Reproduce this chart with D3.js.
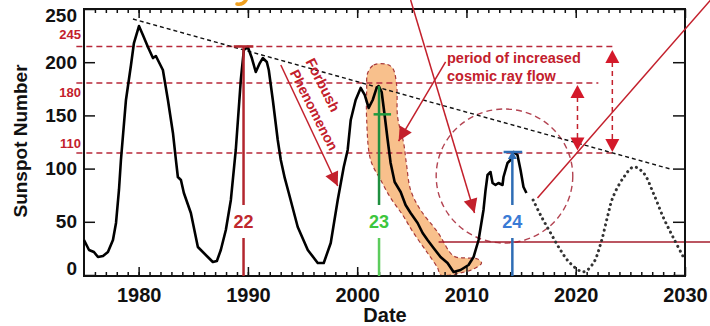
<!DOCTYPE html>
<html><head><meta charset="utf-8">
<script src="https://cdn.jsdelivr.net/npm/d3@7"></script>
<style>
body{margin:0;background:#fff}
svg{display:block}
text{font-family:"Liberation Sans",Arial,Helvetica,sans-serif}
</style>
</head><body>
<svg id="c" width="710" height="326"></svg>
<script>
// ---------- data ----------
const years = [1975.00,1975.46,1975.91,1976.28,1976.74,1977.19,1977.65,1977.93,1978.20,1978.38,1978.84,1979.30,1979.57,1980.03,1980.39,1980.85,1981.31,1981.58,1981.76,1982.22,1982.68,1983.14,1983.41,1983.59,1983.87,1984.14,1984.78,1985.42,1986.33,1986.79,1987.16,1987.52,1987.98,1988.44,1988.89,1989.35,1989.63,1989.99,1990.36,1990.72,1991.09,1991.36,1991.73,1991.91,1992.28,1992.73,1993.01,1993.37,1993.74,1994.56,1995.48,1996.39,1996.94,1997.58,1998.22,1998.77,1999.13,1999.41,1999.86,2000.32,2000.69,2001.05,2001.42,2001.78,2001.97,2002.24,2002.51,2002.79,2003.06,2003.43,2003.98,2004.43,2004.89,2005.53,2005.99,2006.44,2006.99,2007.63,2008.27,2008.82,2009.46,2010.19,2010.65,2011.11,2011.56,2011.75,2011.93,2012.20,2012.39,2012.66,2012.93,2013.30,2013.39,2013.76,2014.03,2014.31,2014.67,2014.95,2015.22,2015.49];
const sunspots = [32.9,23.5,21.6,16.9,17.9,21.6,32.9,48.9,79.9,108.1,164.5,197.4,218.0,234.0,225.6,214.3,203.9,205.8,202.1,192.7,164.5,133.5,108.1,92.1,89.3,77.1,58.3,26.3,16.9,12.2,13.2,23.5,42.3,70.5,117.5,183.3,211.5,214.3,203.9,190.8,199.2,203.9,200.2,192.7,164.5,126.9,108.1,91.2,77.1,45.1,23.5,11.3,11.3,30.1,70.5,101.5,117.5,145.7,164.5,175.8,169.2,157.0,164.5,175.8,177.6,172.0,150.4,126.9,105.3,87.4,78.0,65.8,58.3,48.9,39.5,32.9,25.4,16.9,11.3,2.8,4.7,9.4,16.9,32.9,61.1,79.9,94.0,96.8,86.5,84.6,86.5,84.6,92.1,105.3,108.1,115.6,112.8,98.7,82.7,77.1];

const predYears  = [2016.1,2016.8,2017.7,2018.6,2019.5,2020.7,2021.6,2022.3,2022.9,2023.4,2024.4,2025.3,2026.2,2027.1,2028.0,2028.9,2029.85];
const predValues = [70.5,56,39.5,23.5,11,3,11,30,54.5,73,92,101.5,96,77,54.5,35.7,17];

// orange band around cycle 23 decline (year, value) – outline
const bandYears  = [2000.96,2001.51,2002.60,2003.24,2003.61,2003.70,2004.25,2004.52,2004.89,2005.80,2007.36,2008.82,2009.92,2011.01,2011.38,2010.65,2009.46,2008.55,2007.63,2007.36,2006.44,2005.16,2004.16,2003.06,2002.15,2001.23,2000.87,2000.87];
const bandValues = [189.8,197.4,198.3,194.5,178.6,148.5,124.1,103.4,79.9,61.1,40.4,17.9,16.0,15.0,11.3,5.6,1.9,0,0,6.6,20.7,39.5,56.4,72.4,89.3,108.1,145.7,173.9];

const xTicks = [1980,1990,2000,2010,2020,2030];
const yTicks = [0,50,100,150,200,250];
const xMinorTicks = d3.range(1976,2030);

const levelLabels = ["245","180","110"];
const levelValues = [214.8,180.5,114.7];
const levelEnds   = [2023.35,2022.07,2023.45];

const cycleLabels = ["22","23","24"];
const cycleYears  = [1989.6,2002.0,2014.2];
const cycleTops   = [214.8,177.6,115.6];

const trendYears  = [1979.48,2028.66];
const trendValues = [240.6,99.6];

// ---------- setup ----------
const svg = d3.select("#c");
const x = d3.scaleLinear().domain([1975,2030]).range([84,685]);
const y = d3.scaleLinear().domain([0,250]).range([275,9]);
const RED = "#c3202c";

// orange band
const band = bandYears.map((d,i)=>[x(d),y(bandValues[i])]);
svg.append("path").attr("d", d3.line().curve(d3.curveCatmullRomClosed.alpha(0.5))(band))
  .attr("fill","#f8c08c").attr("stroke","#a83a3a").attr("stroke-width",1.2).attr("stroke-dasharray","4,3");

// horizontal red dashed reference levels
levelValues.forEach((v,i)=>{
  svg.append("line").attr("x1",x(1974.3)).attr("x2",x(levelEnds[i]))
    .attr("y1",y(v)).attr("y2",y(v))
    .attr("stroke","#b8283a").attr("stroke-width",1.5).attr("stroke-dasharray","6,4");
});
const levelTextY = [39,97,148];
levelLabels.forEach((t,i)=>{
  svg.append("text").attr("x",81).attr("y",levelTextY[i]).attr("text-anchor","end")
    .attr("font-size",13).attr("font-weight","bold").attr("fill",RED).text(t);
});

// dashed circle
const cx = x(2013.48), cy = y(93);
svg.append("ellipse").attr("cx",cx).attr("cy",cy)
  .attr("rx",x(2013.48+6.25)-cx).attr("ry",y(93)-y(156))
  .attr("fill","none").attr("stroke","#b34452").attr("stroke-width",1.4).attr("stroke-dasharray","6,4");

// solid dark red horizontal
svg.append("line").attr("x1",x(2007.45)).attr("x2",x(2032.5)).attr("y1",y(31)).attr("y2",y(31))
  .attr("stroke","#a51e2c").attr("stroke-width",1.5);

// trend line
svg.append("line").attr("x1",x(trendYears[0])).attr("y1",y(trendValues[0]))
  .attr("x2",x(trendYears[1])).attr("y2",y(trendValues[1]))
  .attr("stroke","#111").attr("stroke-width",1.4).attr("stroke-dasharray","4,3");

// frame & axes
const g = svg.append("g");
g.append("g").attr("transform","translate(0,276)")
  .call(d3.axisBottom(x).tickValues(xMinorTicks).tickSize(-4).tickFormat("")).call(s=>s.select(".domain").remove());
g.append("g").attr("transform","translate(0,9)")
  .call(d3.axisTop(x).tickValues(xMinorTicks).tickSize(-4).tickFormat("")).call(s=>s.select(".domain").remove());
g.append("g").attr("transform","translate(0,276)")
  .call(d3.axisBottom(x).tickValues(xTicks).tickSize(-9).tickPadding(12).tickFormat(d3.format("d")))
  .call(s=>s.select(".domain").remove())
  .selectAll("text").attr("font-size",20).attr("font-weight","bold").attr("fill","#111");
g.append("g").attr("transform","translate(0,9)")
  .call(d3.axisTop(x).tickValues(xTicks).tickSize(-9).tickFormat(""))
  .call(s=>s.select(".domain").remove());
const yl = g.append("g").attr("transform","translate(84,0)")
  .call(d3.axisLeft(y).tickValues(yTicks).tickSize(-11).tickPadding(7))
  .call(s=>s.select(".domain").remove());
yl.selectAll("text").attr("font-size",19).attr("font-weight","bold").attr("fill","#111")
  .attr("transform",d=> d===250 ? "translate(0,6)" : d===0 ? "translate(0,-7)" : null);
g.append("g").attr("transform","translate(685,0)")
  .call(d3.axisRight(y).tickValues(yTicks).tickSize(-12).tickFormat(""))
  .call(s=>s.select(".domain").remove());
g.selectAll(".tick line").attr("stroke","#111").attr("stroke-width",1.5);
g.append("rect").attr("x",84).attr("y",9).attr("width",601).attr("height",267)
  .attr("fill","none").attr("stroke","#111").attr("stroke-width",2);

// sunspot curve
svg.append("path").datum(years.map((d,i)=>[d,sunspots[i]]))
  .attr("d", d3.line().x(d=>x(d[0])).y(d=>y(d[1])))
  .attr("fill","none").attr("stroke","#000").attr("stroke-width",2.6).attr("stroke-linejoin","round");

// prediction dotted
svg.append("path").datum(predYears.map((d,i)=>[d,predValues[i]]))
  .attr("d", d3.line().curve(d3.curveCatmullRom).x(d=>x(d[0])).y(d=>y(d[1])))
  .attr("fill","none").attr("stroke","#333").attr("stroke-width",3)
  .attr("stroke-linecap","round").attr("stroke-dasharray","0.1,5.2");

// helpers
function tri(tx,ty,dx,dy,len,hw,color){
  const L=Math.hypot(dx,dy), ux=dx/L, uy=dy/L;
  const bx=tx-ux*len, by=ty-uy*len;
  svg.append("path").attr("d",`M${tx},${ty}L${bx-uy*hw},${by+ux*hw}L${bx+uy*hw},${by-ux*hw}Z`).attr("fill",color);
}
function arrow(y1,v1,y2,v2,color,head){
  const x1=x(y1),yy1=y(v1),x2=x(y2),yy2=y(v2);
  svg.append("line").attr("x1",x1).attr("y1",yy1).attr("x2",x2).attr("y2",yy2)
    .attr("stroke",color).attr("stroke-width",1.5);
  if(head) tri(x2,yy2,x2-x1,yy2-yy1,14,7,color);
}

// cycle markers
const cycColTop = ["#b3262e","#1f8f3f","#2e6db5"];
const cycColBot = ["#b3262e","#5ccc5c","#2e6db5"];
const cycText = ["#c0282e","#3dc63d","#3a7bd5"];
cycleYears.forEach((yr,i)=>{
  const cxp = x(yr);
  svg.append("line").attr("x1",cxp).attr("x2",cxp).attr("y1",y(cycleTops[i])).attr("y2",205)
    .attr("stroke",cycColTop[i]).attr("stroke-width",2.5);
  svg.append("line").attr("x1",cxp).attr("x2",cxp).attr("y1",238).attr("y2",276)
    .attr("stroke",cycColBot[i]).attr("stroke-width",2.5);
  svg.append("text").attr("x",cxp).attr("y",228).attr("text-anchor","middle")
    .attr("font-size",18).attr("font-weight","bold").attr("fill",cycText[i]).text(cycleLabels[i]);
});
// caps
svg.append("line").attr("x1",x(1988.7)).attr("x2",x(1990.5)).attr("y1",y(214.8)).attr("y2",y(214.8)).attr("stroke","#b3262e").attr("stroke-width",2.5);
svg.append("line").attr("x1",x(2001.5)).attr("x2",x(2003.1)).attr("y1",y(151)).attr("y2",y(151)).attr("stroke","#1f9a3f").attr("stroke-width",2.5);
svg.append("line").attr("x1",x(2013.4)).attr("x2",x(2015.1)).attr("y1",y(115.6)).attr("y2",y(115.6)).attr("stroke","#2e6db5").attr("stroke-width",2.5);
tri(x(2014.2),y(116.5),0,-1,8,4.5,"#2e6db5");

// red arrows
arrow(1993.01,197.4,1998.22,83.6,RED,true);
arrow(2008.09,200.2,2003.79,125.9,RED,true);
arrow(2004.89,258.5,2010.74,58.3,RED,true);
arrow(2032.5,260.3,2016.5,72.4,RED,false);

// dashed double arrows
[[2023.35,211.5,115.6],[2020.16,178.6,117.0]].forEach(a=>{
  const ax=x(a[0]);
  svg.append("line").attr("x1",ax).attr("x2",ax).attr("y1",y(a[1])+12).attr("y2",y(a[2])-12)
    .attr("stroke",RED).attr("stroke-width",1.5).attr("stroke-dasharray","5,4");
  tri(ax,y(a[1]),0,-1,13,7,"#d4192a");
  tri(ax,y(a[2]),0,1,13,7,"#d4192a");
});

// annotation texts
svg.append("text").attr("x",447).attr("y",63).attr("font-size",14.5).attr("font-weight","bold").attr("fill",RED).text("period of increased");
svg.append("text").attr("x",447).attr("y",81).attr("font-size",14.5).attr("font-weight","bold").attr("fill",RED).text("cosmic ray flow");
svg.append("text").attr("transform","translate(323,85) rotate(63)").attr("text-anchor","middle").attr("dy","0.35em")
  .attr("font-size",14.5).attr("font-weight","bold").attr("fill",RED).text("Forbush");
svg.append("text").attr("transform","translate(314,110) rotate(63)").attr("text-anchor","middle").attr("dy","0.35em")
  .attr("font-size",14).attr("font-weight","bold").attr("fill",RED).text("Phenomenon");

// axis titles
svg.append("text").attr("transform","translate(27,141) rotate(-90)").attr("text-anchor","middle")
  .attr("font-size",19).attr("font-weight","bold").attr("fill","#111").text("Sunspot Number");
svg.append("text").attr("x",385).attr("y",322).attr("text-anchor","middle")
  .attr("font-size",20).attr("font-weight","bold").attr("fill","#111").text("Date");

// clipped heading fragment at top (only a glyph tail is visible in the source)
svg.append("path").attr("d","M246,0 Q243,5 237,4").attr("fill","none")
  .attr("stroke","#f0a020").attr("stroke-width",3.5).attr("stroke-linecap","round");
</script>
</body></html>
